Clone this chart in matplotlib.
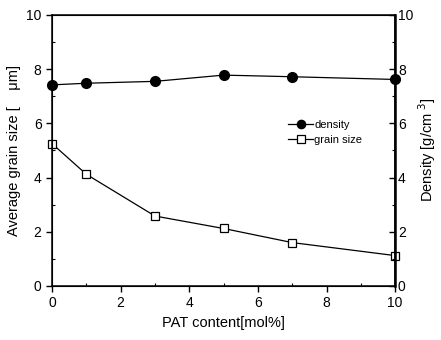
import numpy as np
import matplotlib
matplotlib.use('Agg')
import matplotlib.pyplot as plt
from matplotlib.ticker import MultipleLocator

plt.rcParams['font.family'] = ['Liberation Sans', 'DejaVu Sans']

# data
pat = [0, 1, 3, 5, 7, 10]
grain = [5.25, 4.12, 2.58, 2.12, 1.60, 1.12]
density = [7.42, 7.48, 7.55, 7.78, 7.72, 7.62]

fig = plt.figure(figsize=(4.41, 3.40), dpi=100)
ax = fig.add_axes([0.118, 0.159, 0.778, 0.797])

l2, = ax.plot(pat, grain, '-', color='k', lw=0.9, marker='s', ms=6,
              mfc='white', mec='k', mew=0.9, label='grain size')
ax.set_xlim(0, 10)
ax.set_ylim(0, 10)
ax.xaxis.set_major_locator(MultipleLocator(2))
ax.xaxis.set_minor_locator(MultipleLocator(1))
ax.yaxis.set_major_locator(MultipleLocator(2))
ax.yaxis.set_minor_locator(MultipleLocator(1))
ax.tick_params(which='major', direction='out', length=4, width=1, labelsize=10)
ax.tick_params(which='minor', direction='in', length=2.5, width=0.8)
ax.set_xlabel('PAT content[mol%]', fontsize=10.5)
ax.set_ylabel('Average grain size [    \u03bcm]', fontsize=10.5)
for s in ax.spines.values():
    s.set_linewidth(1.1)
l2.set_clip_on(False)

ax2 = ax.twinx()
l1, = ax2.plot(pat, density, '-', color='k', lw=0.9, marker='o', ms=7,
               mfc='k', mec='k', label='density')
l1.set_clip_on(False)
ax2.set_ylim(0, 10)
ax2.yaxis.set_major_locator(MultipleLocator(2))
ax2.yaxis.set_minor_locator(MultipleLocator(1))
ax2.tick_params(which='major', direction='in', length=4, width=1,
                labelsize=10, pad=2)
ax2.tick_params(which='minor', direction='in', length=2.5, width=0.8)
ax2.spines['right'].set_linewidth(1.8)
ax2.set_ylabel('Density [g/cm$^{\\ 3}$]', fontsize=10.5, labelpad=2)

ax2.legend([l1, l2], ['density', 'grain size'], loc='upper left',
           bbox_to_anchor=(0.66, 0.65), frameon=False, fontsize=8,
           handlelength=2.2, handletextpad=0.1, labelspacing=0.5,
           markerscale=0.85)

fig.savefig('out.png', dpi=100)
